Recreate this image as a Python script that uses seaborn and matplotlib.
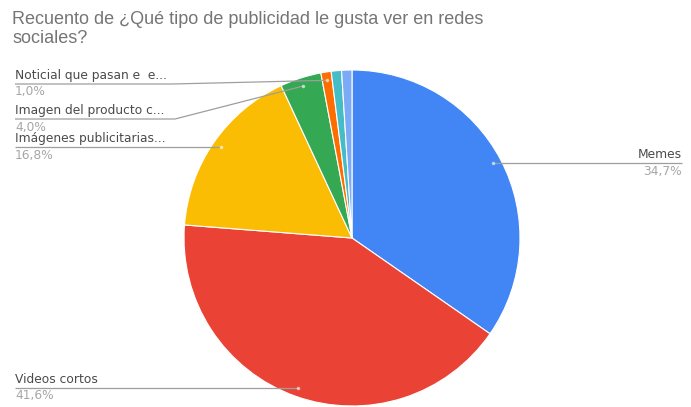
import numpy as np
import matplotlib
matplotlib.use("Agg")
import matplotlib.pyplot as plt
import seaborn as sns

# Survey response counts per answer
categories = ["Memes", "Videos cortos", "Imágenes publicitarias...",
              "Imagen del producto c...", "Noticial que pasan e  e...",
              "Otra respuesta A", "Otra respuesta B"]
counts = [35, 42, 17, 4, 1, 1, 1]
percent_labels = ["34,7%", "41,6%", "16,8%", "4,0%", "1,0%", "1,0%", "1,0%"]
colors = ["#4285F4", "#EA4335", "#FBBC04", "#34A853", "#FF6D01", "#46BDC6", "#7BAAF7"]

sns.set_theme(style="white")
plt.rcParams["font.family"] = ["Liberation Sans", "DejaVu Sans"]

W, H = 691, 407
fig = plt.figure(figsize=(W / 100, H / 100), dpi=100)
ax = fig.add_axes([0, 0, 1, 1])

cx, cy, r = 352, H - 238, 168
wedges, _ = ax.pie(counts, colors=colors, startangle=90, counterclock=False,
                   center=(cx, cy), radius=r, frame=True,
                   wedgeprops=dict(edgecolor="white", linewidth=0.8))
ax.set_xlim(0, W)
ax.set_ylim(0, H)
ax.set_aspect("equal")
ax.axis("off")

fig.text(12 / W, 1 - 11 / H,
         "Recuento de ¿Qué tipo de publicidad le gusta ver en redes\nsociales?",
         ha="left", va="top", fontsize=13, color="#757575", linespacing=1.12)

line_color = "#9e9e9e"
name_color = "#4a4a4a"
pct_color = "#a6a6a6"
label_font = dict(fontsize=8.8, family=["DejaVu Sans"])

def anchor(w, frac=0.95):
    mid = np.deg2rad((w.theta1 + w.theta2) / 2)
    return cx + frac * r * np.cos(mid), cy + frac * r * np.sin(mid)

# Label placement: (index, text x, line y in pixels, side, elbow x)
placements = [
    (0, 682, 163, "right", None),
    (1, 15, 388, "left", None),
    (2, 15, 147, "left", None),
    (3, 15, 119, "left", 175),
    (4, 15, 84, "left", 172),
]
for idx, tx, ly, side, elbow in placements:
    ax_, ay_ = anchor(wedges[idx])
    y = H - ly
    if elbow is None:
        xs = [ax_, tx]
        ys = [y, y]
        ay_ = y
    else:
        xs = [ax_, elbow, tx]
        ys = [ay_, y, y]
    ax.plot(xs, ys, color=line_color, lw=0.9, solid_capstyle="butt")
    ax.plot([ax_], [ay_], "o", ms=1.6, color="white", alpha=0.5)
    ha = "right" if side == "right" else "left"
    ax.text(tx, y + 2, categories[idx], ha=ha, va="bottom",
            color=name_color, **label_font)
    ax.text(tx, y - 1.5, percent_labels[idx], ha=ha, va="top",
            color=pct_color, **label_font)

fig.savefig("out.png", dpi=100, facecolor="white")
